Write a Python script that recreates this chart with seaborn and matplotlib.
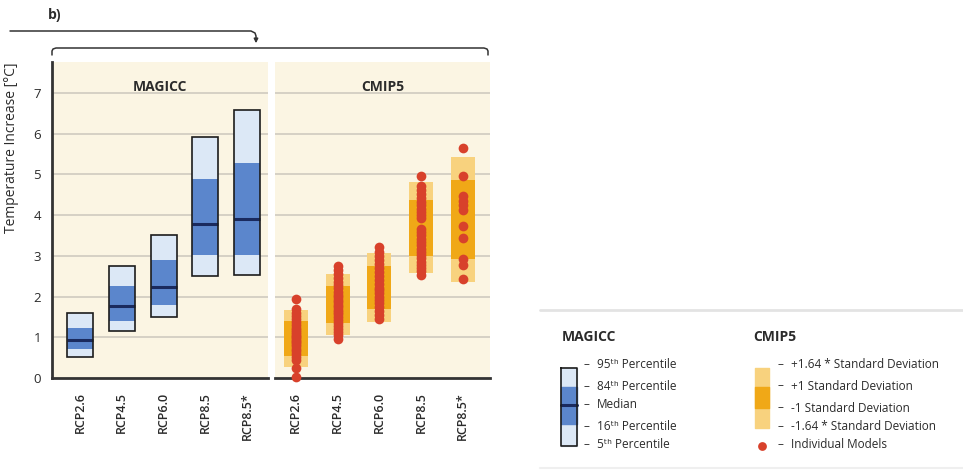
import numpy as np
import matplotlib.pyplot as plt
import seaborn as sns
import pandas as pd

scenarios = ["RCP2.6", "RCP4.5", "RCP6.0", "RCP8.5", "RCP8.5*"]

# MAGICC percentiles
p05 = [0.52, 1.15, 1.50, 2.51, 2.54]
p16 = [0.70, 1.41, 1.79, 3.01, 3.03]
p50 = [0.94, 1.76, 2.23, 3.77, 3.91]
p84 = [1.24, 2.27, 2.91, 4.89, 5.28]
p95 = [1.60, 2.74, 3.51, 5.91, 6.59]

# CMIP5 mean +/- standard deviation bands
sd164_lo = [0.27, 1.05, 1.37, 2.58, 2.35]
sd1_lo = [0.53, 1.34, 1.70, 2.99, 2.93]
sd1_hi = [1.39, 2.27, 2.76, 4.38, 4.86]
sd164_hi = [1.66, 2.56, 3.07, 4.81, 5.43]

# CMIP5 individual models
models_rcp26 = [0.02, 0.24, 0.45, 0.52, 0.60, 0.66, 0.72, 0.78, 0.84, 0.88, 0.92, 0.96,
                1.00, 1.04, 1.08, 1.12, 1.18, 1.24, 1.30, 1.38, 1.45, 1.52, 1.60, 1.70, 1.95]
models_rcp45 = [0.96, 1.05, 1.12, 1.20, 1.28, 1.35, 1.42, 1.50, 1.56, 1.62, 1.68, 1.74, 1.80,
                1.86, 1.92, 1.98, 2.05, 2.12, 2.20, 2.28, 2.36, 2.45, 2.55, 2.64, 2.75]
models_rcp60 = [1.46, 1.55, 1.65, 1.75, 1.85, 1.92, 2.00, 2.08, 2.15, 2.22, 2.30, 2.40,
                2.50, 2.60, 2.70, 2.80, 2.90, 3.00, 3.10, 3.22]
models_rcp85 = [2.54, 2.62, 2.70, 2.78, 2.86, 2.94, 3.02, 3.10, 3.18, 3.26, 3.34, 3.42, 3.50,
                3.58, 3.66, 3.92, 4.00, 4.08, 4.16, 4.24, 4.32, 4.42, 4.52, 4.62, 4.72, 4.97]
models_rcp85s = [2.42, 2.78, 2.92, 3.45, 3.74, 4.12, 4.25, 4.35, 4.46, 4.95, 5.65]

yticks = [0, 1, 2, 3, 4, 5, 6, 7]

bg = "#FBF5E3"
light_blue = "#DCE8F6"
mid_blue = "#5B86CC"
navy = "#1A2A5E"
light_orange = "#F8D27E"
orange = "#F0A817"
red = "#D8412B"
text_col = "#2B2B2B"

sns.set_theme(style="white")
plt.rcParams["font.family"] = ["Open Sans", "DejaVu Sans"]

fig = plt.figure(figsize=(9.63, 4.70), dpi=100)
W, H = 963, 470


def px_axes(x0, y0, x1, y1):
    return fig.add_axes([x0 / W, 1 - y1 / H, (x1 - x0) / W, (y1 - y0) / H])


ax1 = px_axes(52, 62, 268, 378)
ax2 = px_axes(275, 62, 490, 378)

models = pd.DataFrame({
    "scenario": sum([[s] * len(v) for s, v in zip(scenarios, [models_rcp26, models_rcp45, models_rcp60,
                                                               models_rcp85, models_rcp85s])], []),
    "temp": models_rcp26 + models_rcp45 + models_rcp60 + models_rcp85 + models_rcp85s,
})

xpos = np.arange(len(scenarios))
bw = 0.62

# MAGICC panel
lo = np.array(p05)
hi = np.array(p95)
ax1.bar(xpos, hi - lo, bottom=lo, width=bw, color=light_blue, edgecolor="none", zorder=3)
ax1.bar(xpos, np.array(p84) - np.array(p16), bottom=p16, width=bw, color=mid_blue,
        edgecolor="none", zorder=4)
ax1.hlines(p50, xpos - bw / 2, xpos + bw / 2, color=navy, lw=2.2, zorder=5)
ax1.bar(xpos, hi - lo, bottom=lo, width=bw, color="none", edgecolor="#1c1c1c", lw=1.2, zorder=6)

# CMIP5 panel
ax2.bar(xpos, np.array(sd164_hi) - np.array(sd164_lo), bottom=sd164_lo, width=0.58,
        color=light_orange, edgecolor="none", zorder=3)
ax2.bar(xpos, np.array(sd1_hi) - np.array(sd1_lo), bottom=sd1_lo, width=0.58,
        color=orange, edgecolor="none", zorder=4)
sns.stripplot(data=models, x="scenario", y="temp", order=scenarios, jitter=False,
              color=red, size=7, linewidth=0, ax=ax2, zorder=6, clip_on=False)

for ax, title, xl in [(ax1, "MAGICC", (-0.67, 4.50)), (ax2, "CMIP5", (-0.50, 4.65))]:
    ax.set_facecolor(bg)
    ax.set_xlim(*xl)
    ax.set_ylim(0, 7.76)
    ax.set_yticks(yticks)
    for y in yticks[1:]:
        ax.axhline(y, color="#CBC7BC", lw=1.1, zorder=1)
    ax.set_xticks(xpos)
    ax.set_xticklabels(scenarios, rotation=90, fontsize=9, color=text_col, fontweight="semibold")
    ax.tick_params(axis="x", length=0, pad=10)
    ax.set_xlabel("")
    ax.set_ylabel("")
    for s in ["top", "right", "left"]:
        ax.spines[s].set_visible(False)
    ax.spines["bottom"].set_color("#333333")
    ax.spines["bottom"].set_linewidth(2)
    ax.text(0.5, 0.92, title, transform=ax.transAxes, ha="center", va="center",
            fontsize=10, fontweight="bold", color=text_col)

ax1.spines["left"].set_visible(True)
ax1.spines["left"].set_color("#333333")
ax1.spines["left"].set_linewidth(2)
ax1.tick_params(axis="y", length=0, pad=8, labelsize=9.5, labelcolor=text_col)
ax2.set_yticklabels([])
ax2.tick_params(axis="y", length=0)

# overlay in pixel coordinates for annotations and legend
ov = fig.add_axes([0, 0, 1, 1], zorder=10)
ov.set_xlim(0, W)
ov.set_ylim(H, 0)
ov.axis("off")
ov.patch.set_alpha(0)

ov.text(48, 15, "b)", fontsize=10, fontweight="bold", color=text_col, va="center")
ov.text(12, 148, "Temperature Increase [°C]", rotation=90, fontsize=10, color=text_col,
        ha="center", va="center")

lc = "#333333"
ov.plot([10, 251, 255, 256, 256], [31, 31, 33, 36, 38], color=lc, lw=1.1)
ov.annotate("", xy=(256, 46), xytext=(256, 37),
            arrowprops=dict(arrowstyle="-|>", color=lc, lw=1.1, mutation_scale=6))
ov.plot([52, 52, 53, 56, 484, 487, 488, 488], [55, 51, 49, 48, 48, 49, 51, 55], color=lc, lw=1.1)

# legend
ov.plot([540, 963], [310, 310], color="#E3E3E3", lw=2)
ov.plot([540, 963], [468, 468], color="#EFEFEF", lw=1.5)
ov.text(562, 337, "MAGICC", fontsize=10, fontweight="bold", color=text_col, va="center")
ov.text(753, 337, "CMIP5", fontsize=10, fontweight="bold", color=text_col, va="center")

ov.fill_between([561, 577], 368, 446, color=light_blue)
ov.fill_between([561, 577], 387, 424, color=mid_blue)
ov.plot([561, 577], [405, 405], color=navy, lw=2.2)
ov.plot([561, 577, 577, 561, 561], [368, 368, 446, 446, 368], color="#1c1c1c", lw=1.2)

mag_labels = ["95ᵗʰ Percentile", "84ᵗʰ Percentile", "Median", "16ᵗʰ Percentile", "5ᵗʰ Percentile"]
mag_y = [365, 387, 405, 427, 445]
for lab, y in zip(mag_labels, mag_y):
    ov.text(584, y, "–", fontsize=8.5, color=text_col, va="center")
    ov.text(597, y, lab, fontsize=8.5, color=text_col, va="center")

ov.fill_between([755, 769], 368, 428, color=light_orange)
ov.fill_between([755, 769], 387, 408, color=orange)
ov.scatter([762], [446], s=40, color=red, linewidths=0)

cm_labels = ["+1.64 * Standard Deviation", "+1 Standard Deviation", "-1 Standard Deviation",
             "-1.64 * Standard Deviation", "Individual Models"]
cm_y = [365, 386, 408, 427, 445]
for lab, y in zip(cm_labels, cm_y):
    ov.text(778, y, "–", fontsize=8.5, color=text_col, va="center")
    ov.text(791, y, lab, fontsize=8.5, color=text_col, va="center")

fig.savefig("out.png", dpi=100, facecolor="white")
